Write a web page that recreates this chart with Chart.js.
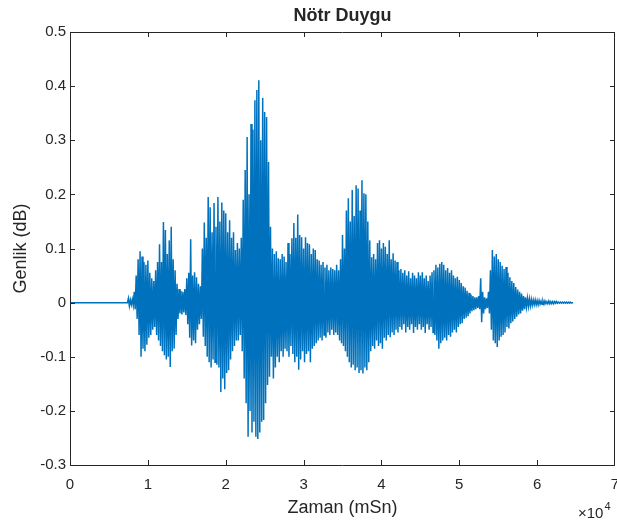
<!DOCTYPE html>
<html>
<head>
<meta charset="utf-8">
<script src="https://cdn.jsdelivr.net/npm/chart.js@4.4.1/dist/chart.umd.min.js"></script>
<style>
  html, body { margin: 0; padding: 0; background: #ffffff; }
  #wrap { width: 617px; height: 522px; position: relative; }
</style>
</head>
<body>
<div id="wrap"><canvas id="c" width="617" height="522"></canvas></div>
<script>
// ---- Data ----
const chartTitle = "Nötr Duygu";
const xAxisLabel = "Zaman (mSn)";
const yAxisLabel = "Genlik (dB)";
const xTickValues = [0, 10000, 20000, 30000, 40000, 50000, 60000, 70000];
const yTickValues = [-0.3, -0.2, -0.1, 0, 0.1, 0.2, 0.3, 0.4, 0.5];
const sampleStepMs = 250;           // one envelope reading every 250 ms, starting at 0 ms

// upper extreme of the waveform in each 250 ms column
const upperEnvelope = [
  0,0,0,0, 0,0,0,0, 0,0,0,0, 0,0,0,0, 0,0,0,0, 0,0,0,0, 0,0,0,0,
  0, 0, 0.008, 0.005,
  0.006, 0.02, 0.05, 0.08,
  0.095, 0.085, 0.075, 0.07,
  0.078, 0.055, 0.045, 0.04,
  0.06, 0.075, 0.108, 0.075,
  0.149, 0.134, 0.09, 0.115,
  0.14, 0.08, 0.06, 0.035,
  0.025, 0.022, 0.02, 0.025,
  0.045, 0.055, 0.117, 0.05,
  0.056, 0.047, 0.035, 0.03,
  0.10, 0.148, 0.12, 0.195,
  0.176, 0.13, 0.184, 0.14,
  0.195, 0.15, 0.185, 0.17,
  0.165, 0.13, 0.152, 0.12,
  0.13, 0.097, 0.11, 0.10,
  0.12, 0.19, 0.245, 0.306,
  0.20, 0.33, 0.32, 0.374,
  0.393, 0.411, 0.30, 0.378,
  0.352, 0.343, 0.26, 0.14,
  0.10, 0.09, 0.095, 0.082,
  0.08, 0.09, 0.085, 0.075,
  0.11, 0.09, 0.119, 0.147,
  0.12, 0.163, 0.125, 0.121,
  0.10, 0.121, 0.11, 0.108,
  0.09, 0.10, 0.097, 0.08,
  0.078, 0.07, 0.075, 0.065,
  0.07, 0.06, 0.065, 0.062,
  0.06, 0.07, 0.06, 0.08,
  0.125, 0.10, 0.17, 0.193,
  0.15, 0.208, 0.16, 0.217,
  0.211, 0.17, 0.226, 0.202,
  0.20, 0.15, 0.115, 0.084,
  0.09, 0.08, 0.11, 0.115,
  0.10, 0.11, 0.103, 0.09,
  0.115, 0.08, 0.091, 0.078,
  0.075, 0.06, 0.062, 0.055,
  0.06, 0.05, 0.058, 0.045,
  0.055, 0.05, 0.045, 0.056,
  0.05, 0.056, 0.045, 0.05,
  0.04, 0.05, 0.056, 0.06,
  0.07, 0.065, 0.072, 0.075,
  0.07, 0.06, 0.064, 0.055,
  0.06, 0.05, 0.045, 0.048,
  0.042, 0.036, 0.03, 0.028,
  0.022, 0.018, 0.015, 0.012,
  0.01, 0.01, 0.012, 0.045,
  0.02, 0.01, 0.008, 0.02,
  0.06, 0.097, 0.085, 0.09,
  0.08, 0.075, 0.068, 0.062,
  0.066, 0.055, 0.047, 0.04,
  0.036, 0.029, 0.024, 0.02,
  0.017, 0.012, 0.01, 0.008,
  0.007, 0.006, 0.005, 0.005,
  0.004, 0.004, 0.003, 0.003,
  0.003, 0.002, 0.003, 0.002,
  0.002, 0.002, 0.002, 0.001,
  0.001, 0.001, 0.001, 0.001,
  0.001, 0.001, 0
];

// lower extreme of the waveform in each 250 ms column
const lowerEnvelope = [
  0,0,0,0, 0,0,0,0, 0,0,0,0, 0,0,0,0, 0,0,0,0, 0,0,0,0, 0,0,0,0,
  0, 0, -0.006, -0.004,
  -0.005, -0.012, -0.03, -0.06,
  -0.10, -0.085, -0.09, -0.078,
  -0.065, -0.06, -0.05, -0.045,
  -0.06, -0.07, -0.08, -0.09,
  -0.097, -0.105, -0.10, -0.119,
  -0.09, -0.085, -0.06, -0.03,
  -0.02, -0.022, -0.018, -0.023,
  -0.04, -0.065, -0.079, -0.07,
  -0.075, -0.05, -0.04, -0.03,
  -0.063, -0.08, -0.10, -0.11,
  -0.12, -0.105, -0.11, -0.115,
  -0.12, -0.165, -0.14, -0.16,
  -0.13, -0.125, -0.105, -0.09,
  -0.08, -0.07, -0.07, -0.06,
  -0.09, -0.14, -0.186, -0.248,
  -0.20, -0.24, -0.22, -0.248,
  -0.252, -0.24, -0.22, -0.217,
  -0.186, -0.152, -0.137, -0.10,
  -0.14, -0.12, -0.10, -0.11,
  -0.09, -0.10, -0.085, -0.09,
  -0.10, -0.08, -0.095, -0.11,
  -0.10, -0.124, -0.105, -0.09,
  -0.11, -0.095, -0.09, -0.11,
  -0.085, -0.08, -0.075, -0.07,
  -0.065, -0.07, -0.06, -0.065,
  -0.055, -0.06, -0.05, -0.06,
  -0.055, -0.06, -0.07, -0.075,
  -0.08, -0.09, -0.10, -0.11,
  -0.12, -0.115, -0.125, -0.12,
  -0.13, -0.125, -0.131, -0.12,
  -0.125, -0.11, -0.09, -0.08,
  -0.085, -0.07, -0.08, -0.075,
  -0.085, -0.065, -0.07, -0.06,
  -0.064, -0.055, -0.06, -0.05,
  -0.055, -0.045, -0.05, -0.04,
  -0.055, -0.045, -0.05, -0.04,
  -0.056, -0.045, -0.05, -0.04,
  -0.05, -0.045, -0.056, -0.04,
  -0.05, -0.045, -0.055, -0.06,
  -0.07, -0.085, -0.075, -0.07,
  -0.065, -0.07, -0.06, -0.063,
  -0.055, -0.05, -0.055, -0.045,
  -0.04, -0.038, -0.03, -0.028,
  -0.025, -0.02, -0.016, -0.014,
  -0.012, -0.01, -0.012, -0.036,
  -0.02, -0.012, -0.01, -0.02,
  -0.05, -0.07, -0.075, -0.082,
  -0.07, -0.063, -0.06, -0.055,
  -0.045, -0.048, -0.038, -0.035,
  -0.03, -0.026, -0.022, -0.02,
  -0.015, -0.012, -0.008, -0.007,
  -0.006, -0.005, -0.004, -0.004,
  -0.004, -0.003, -0.003, -0.003,
  -0.002, -0.002, -0.002, -0.002,
  -0.002, -0.001, -0.001, -0.001,
  -0.001, -0.001, -0.001, -0.001,
  -0.001, -0.001, 0
];

// ---- Build the line: each column swings from its upper to its lower extreme ----
const wavePoints = [];
for (let i = 0; i < upperEnvelope.length; i++) {
  const t = i * sampleStepMs;
  wavePoints.push({ x: t, y: upperEnvelope[i] });
  wavePoints.push({ x: t + sampleStepMs / 2, y: lowerEnvelope[i] });
}

const AXIS_COLOR = '#262626';
const LINE_COLOR = '#0072BD';
const FONT = '"Liberation Sans", Arial, Helvetica, sans-serif';

const matlabFrame = {
  id: 'matlabFrame',
  afterDraw(chart) {
    const { ctx, chartArea: a, scales } = chart;
    const xs = scales.x, ys = scales.y;
    const tl = 5;
    ctx.save();
    ctx.strokeStyle = AXIS_COLOR;
    ctx.lineWidth = 1;
    ctx.beginPath();
    ctx.rect(Math.round(a.left) + 0.5, Math.round(a.top) + 0.5,
             Math.round(a.right - a.left) - 1, Math.round(a.bottom - a.top));
    xTickValues.forEach(v => {
      const px = Math.min(Math.round(xs.getPixelForValue(v)), Math.round(a.right) - 1) + 0.5;
      ctx.moveTo(px, a.bottom); ctx.lineTo(px, a.bottom - tl);
      ctx.moveTo(px, a.top); ctx.lineTo(px, a.top + tl);
    });
    yTickValues.forEach(v => {
      const py = Math.round(ys.getPixelForValue(v)) + 0.5;
      ctx.moveTo(a.left, py); ctx.lineTo(a.left + tl, py);
      ctx.moveTo(a.right, py); ctx.lineTo(a.right - tl, py);
    });
    ctx.stroke();

    ctx.fillStyle = AXIS_COLOR;
    const cx = (a.left + a.right) / 2;
    const cy = (a.top + a.bottom) / 2;
    ctx.textAlign = 'center';
    ctx.textBaseline = 'middle';
    ctx.font = 'bold 18px ' + FONT;
    ctx.fillText(chartTitle, cx, 16);
    ctx.font = '18px ' + FONT;
    ctx.fillText(xAxisLabel, cx, 508);
    ctx.save();
    ctx.translate(21, cy);
    ctx.rotate(-Math.PI / 2);
    ctx.fillText(yAxisLabel, 0, 0);
    ctx.restore();
    // exponent marker (x10^4)
    ctx.textAlign = 'left';
    ctx.textBaseline = 'alphabetic';
    ctx.font = '15px ' + FONT;
    const baseText = '\u00D710';
    const bx = 578;
    ctx.fillText(baseText, bx, 518);
    const bw = ctx.measureText(baseText).width;
    ctx.font = '11px ' + FONT;
    ctx.fillText('4', bx + bw + 1, 510);
    ctx.restore();
  }
};

new Chart(document.getElementById('c'), {
  type: 'line',
  data: {
    datasets: [{
      data: wavePoints,
      borderColor: LINE_COLOR,
      borderWidth: 1.5,
      pointRadius: 0,
      tension: 0,
      fill: false
    }]
  },
  options: {
    responsive: false,
    animation: false,
    events: [],
    layout: { padding: { top: 32, right: 2, left: 0, bottom: 0 } },
    plugins: { legend: { display: false }, title: { display: false }, tooltip: { enabled: false } },
    scales: {
      x: {
        type: 'linear',
        min: 0, max: 70000,
        afterFit(s) { s.height = 57; s.paddingLeft = 0; s.paddingRight = 0; },
        afterBuildTicks(s) { s.ticks = xTickValues.map(v => ({ value: v })); },
        grid: { display: false, drawTicks: false },
        border: { display: false },
        ticks: {
          color: AXIS_COLOR, font: { family: FONT, size: 15 }, padding: 11,
          maxRotation: 0, autoSkip: false,
          callback: v => String(Math.round(v / 10000))
        }
      },
      y: {
        type: 'linear',
        min: -0.3, max: 0.5,
        afterFit(s) { s.width = 70; s.paddingTop = 0; s.paddingBottom = 0; },
        afterBuildTicks(s) { s.ticks = yTickValues.map(v => ({ value: v })); },
        grid: { display: false, drawTicks: false },
        border: { display: false },
        ticks: {
          color: AXIS_COLOR, font: { family: FONT, size: 15 }, padding: 4,
          autoSkip: false,
          callback: v => String(Math.round(v * 10) / 10)
        }
      }
    }
  },
  plugins: [matlabFrame]
});
</script>
</body>
</html>
